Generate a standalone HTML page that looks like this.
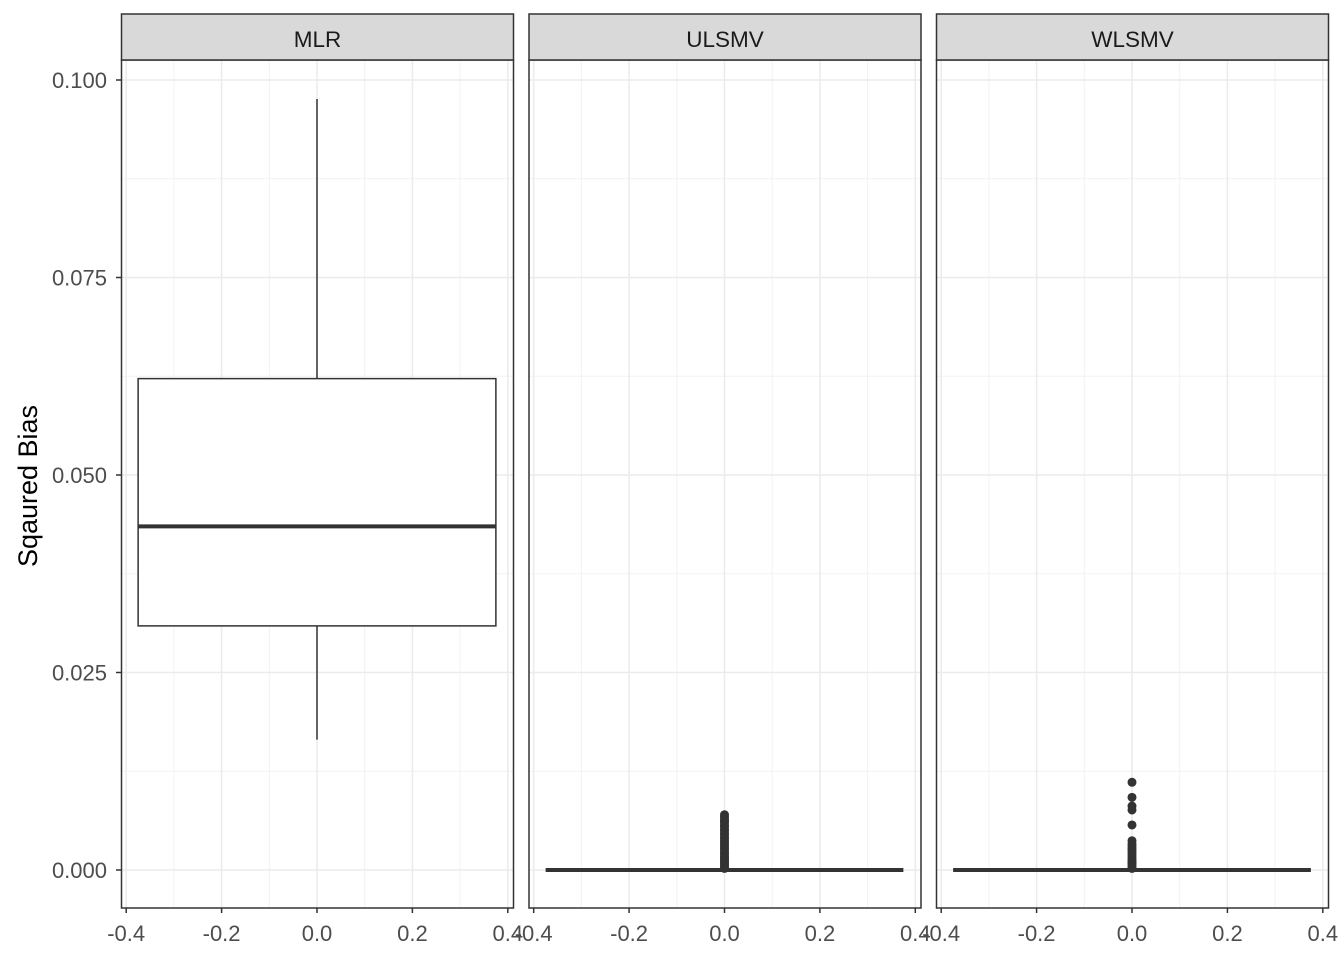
<!DOCTYPE html>
<html><head><meta charset="utf-8"><style>
body{margin:0;background:#fff;}
svg text{font-family:"Liberation Sans",Arial,sans-serif;}
</style></head><body>
<svg id="chart" width="1344" height="960" xmlns="http://www.w3.org/2000/svg"></svg>
<script>
const panels = ["MLR","ULSMV","WLSMV"];
const yTicks = [0, 0.025, 0.05, 0.075, 0.1];
const yTickLabels = ["0.000","0.025","0.050","0.075","0.100"];
const xTicks = [-0.4,-0.2,0,0.2,0.4];
const xTickLabels = ["-0.4","-0.2","0.0","0.2","0.4"];
// box stats: [lower whisker, q1, median, q3, upper whisker]
const boxMLR = [0.0165, 0.0309, 0.0435, 0.0622, 0.0976];
const boxULSMV = [0, 0, 0, 0, 0];
const boxWLSMV = [0, 0, 0, 0, 0];
const outliersMLR = [];
const outliersULSMV = [0.0070,0.0067,0.0064,0.0062,0.0060,0.0057,0.0055,0.0052,0.0050,0.0047,0.0045,0.0042,0.0040,0.0037,0.0035,0.0032,0.0030,0.0027,0.0025,0.0022,0.0020,0.0017,0.0015,0.0012,0.0010,0.0008,0.0006,0.0004,0.0002];
const outliersWLSMV = [0.0111,0.0092,0.0081,0.0076,0.0057,0.0037,0.0033,0.0030,0.0027,0.0024,0.0021,0.0018,0.0015,0.0012,0.0010,0.0008,0.0006,0.0004,0.0002];
const boxes=[boxMLR,boxULSMV,boxWLSMV];
const outs=[outliersMLR,outliersULSMV,outliersWLSMV];

const svg=document.getElementById('chart');
const NS="http://www.w3.org/2000/svg";
function mk(t,a,p){const e=document.createElementNS(NS,t);for(const k in a)e.setAttribute(k,a[k]);(p||svg).appendChild(e);return e;}
const panelLeft=[121.5,529,936.5], panelW=392, pTop=60, pBottom=908;
const yScale=v=>870-v*7900;
const xs=(i,v)=>panelLeft[i]+195.5+v*477;

panels.forEach((name,i)=>{
  const g=mk('g',{});
  
  
  const L=panelLeft[i];
  for(let k=0;k<yTicks.length-1;k++){const v=(yTicks[k]+yTicks[k+1])/2;mk('line',{x1:L,x2:L+panelW,y1:yScale(v),y2:yScale(v),stroke:'#f2f2f2','stroke-width':1},g);}
  for(let k=0;k<xTicks.length-1;k++){const v=(xTicks[k]+xTicks[k+1])/2;mk('line',{x1:xs(i,v),x2:xs(i,v),y1:pTop,y2:pBottom,stroke:'#f2f2f2','stroke-width':1},g);}
  yTicks.forEach(v=>mk('line',{x1:L,x2:L+panelW,y1:yScale(v),y2:yScale(v),stroke:'#ebebeb','stroke-width':1.5},g));
  xTicks.forEach(v=>mk('line',{x1:xs(i,v),x2:xs(i,v),y1:pTop,y2:pBottom,stroke:'#ebebeb','stroke-width':1.5},g));
  const b=boxes[i], x0=xs(i,-0.375), x1=xs(i,0.375), xc=xs(i,0);
  mk('line',{x1:xc,x2:xc,y1:yScale(b[3]),y2:yScale(b[4]),stroke:'#333','stroke-width':1.5},g);
  mk('line',{x1:xc,x2:xc,y1:yScale(b[0]),y2:yScale(b[1]),stroke:'#333','stroke-width':1.5},g);
  const bx=mk('rect',{x:x0,y:yScale(b[3]),width:x1-x0,height:Math.max(0,yScale(b[1])-yScale(b[3])),fill:'#fff',stroke:'#333','stroke-width':1.5},g);
  
  
  mk('line',{x1:x0,x2:x1,y1:yScale(b[2]),y2:yScale(b[2]),stroke:'#333','stroke-width':4},g);
  outs[i].forEach(v=>{const c=mk('circle',{cx:xc,cy:yScale(v),r:4.5,fill:'#333'},g);
    
    });
  mk('rect',{x:L,y:pTop,width:panelW,height:pBottom-pTop,fill:'none',stroke:'#333','stroke-width':1.5},g);
  const s=mk('rect',{x:L,y:14,width:panelW,height:46,fill:'#d9d9d9',stroke:'#333','stroke-width':1.5},g);
  
  
  const st=mk('text',{x:L+panelW/2,y:47,'text-anchor':'middle','font-size':22.5,fill:'#1a1a1a'},g);st.textContent=name;
  
  
  xTicks.forEach((v,k)=>{mk('line',{x1:xs(i,v),x2:xs(i,v),y1:pBottom,y2:pBottom+5,stroke:'#333','stroke-width':1.5},g);
    const t=mk('text',{x:xs(i,v),y:941,'text-anchor':'middle','font-size':22,fill:'#4d4d4d'},g);t.textContent=xTickLabels[k];
    
    });
});
yTicks.forEach((v,k)=>{mk('line',{x1:116,x2:121.5,y1:yScale(v),y2:yScale(v),stroke:'#333','stroke-width':1.5});
  const t=mk('text',{x:107,y:yScale(v)+8,'text-anchor':'end','font-size':22,fill:'#4d4d4d'});t.textContent=yTickLabels[k];
  
  });
const yt=mk('text',{x:0,y:0,transform:'translate(37,486) rotate(-90)','text-anchor':'middle','font-size':27,fill:'#000'});
yt.textContent='Sqaured Bias';


</script>
</body></html>
